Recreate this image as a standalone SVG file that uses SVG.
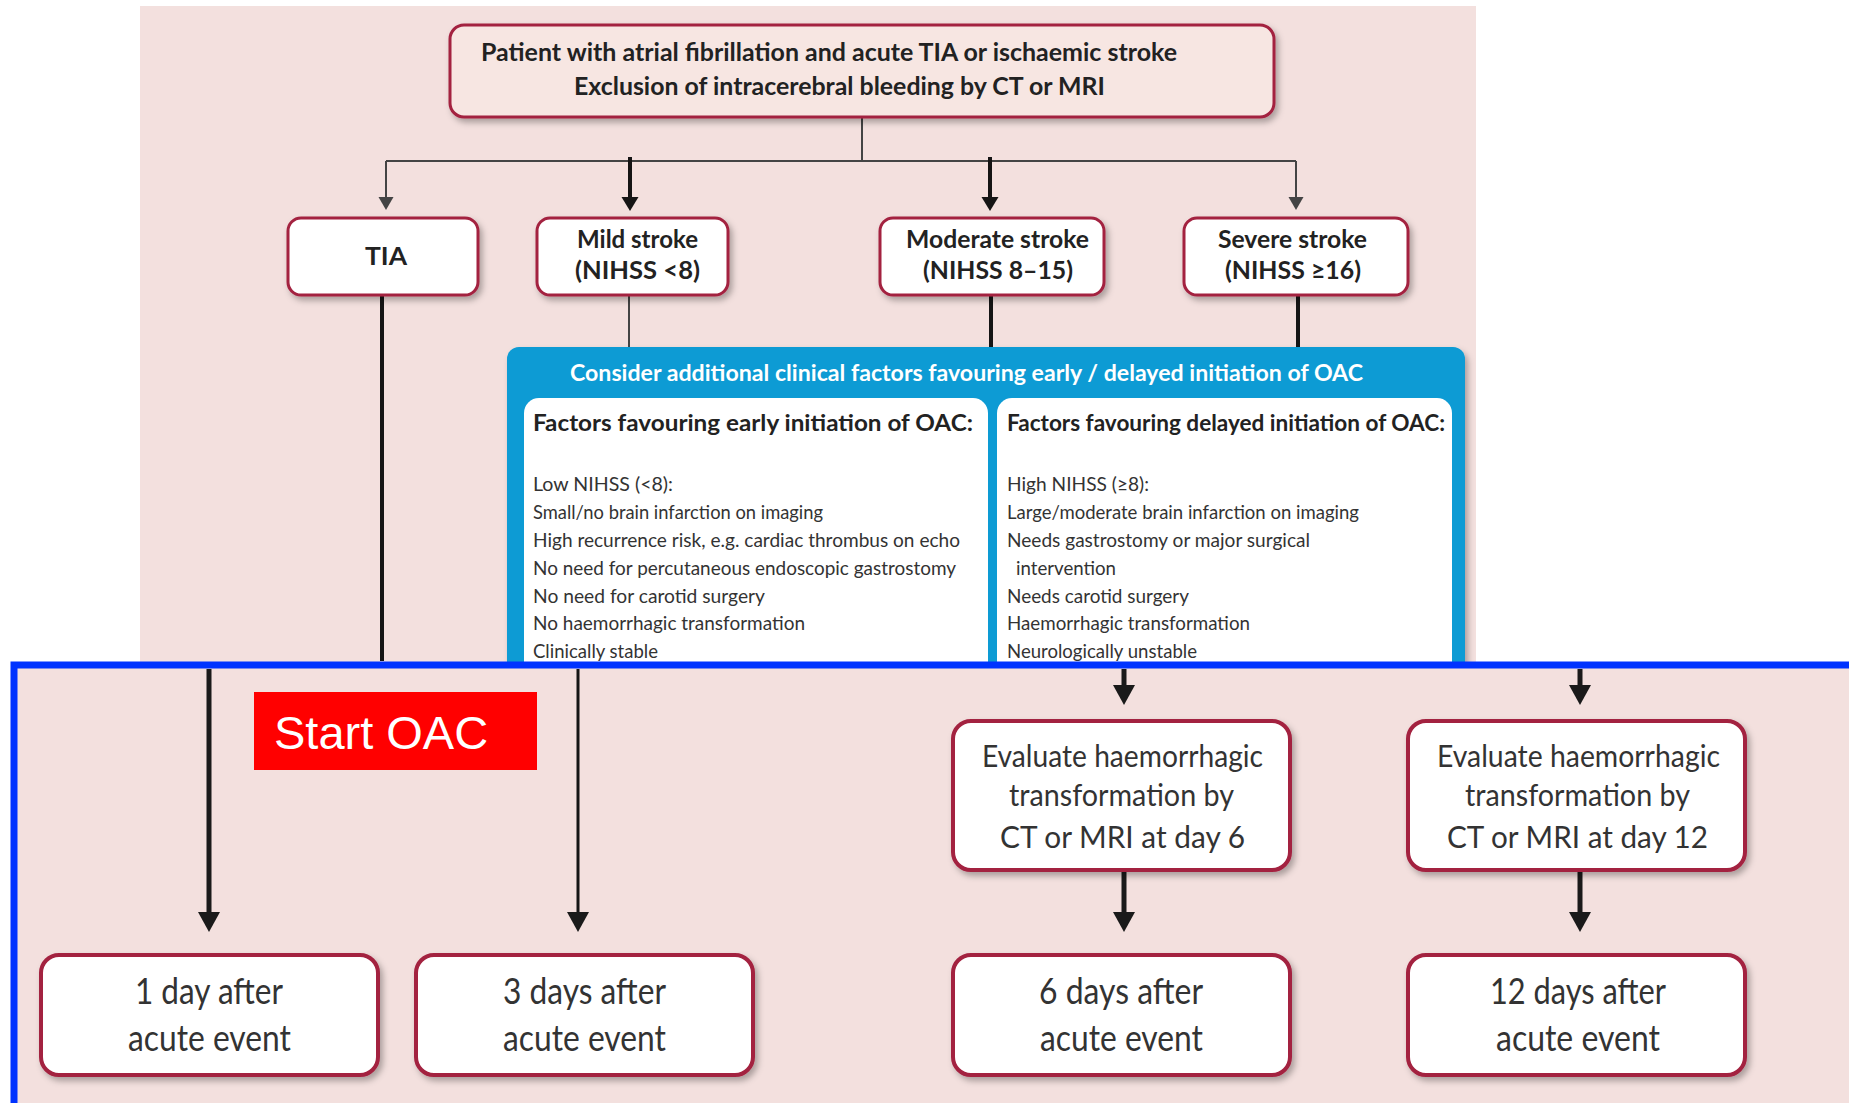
<svg xmlns="http://www.w3.org/2000/svg" width="1849" height="1103" viewBox="0 0 1849 1103">
<defs>
<style>
.node{fill:#ffffff;stroke:#a3213f;stroke-width:3;filter:url(#sh)}
.nodeb{fill:#ffffff;stroke:#a3213f;stroke-width:4;filter:url(#sh)}
.hb{font-family:Lato,"Open Sans","DejaVu Sans",sans-serif;font-weight:bold;fill:#222222}
.it{font-family:Lato,"Open Sans","DejaVu Sans",sans-serif;font-size:20px;fill:#333333}
.bt{font-family:Lato,"Open Sans","DejaVu Sans",sans-serif;fill:#333333}
.thin{stroke:#444444;stroke-width:2;fill:none}
.med{stroke:#151515;stroke-width:4;fill:none}
.big{stroke:#1a1a1a;stroke-width:5;fill:none}
</style>
<filter id="sh" x="-10%" y="-10%" width="125%" height="135%">
<feDropShadow dx="3" dy="4" stdDeviation="3" flood-color="#000000" flood-opacity="0.3"/>
</filter>
<marker id="mThin" viewBox="0 -10 20 20" markerWidth="20" markerHeight="20" refX="6" refY="0" orient="auto" markerUnits="userSpaceOnUse">
<path d="M0,-7.5 L13,0 L0,7.5 z" fill="#444444"/>
</marker>
<marker id="mMed" viewBox="0 -10 20 20" markerWidth="20" markerHeight="20" refX="6" refY="0" orient="auto" markerUnits="userSpaceOnUse">
<path d="M0,-8.5 L14,0 L0,8.5 z" fill="#151515"/>
</marker>
<marker id="mBig" viewBox="0 -12 24 24" markerWidth="24" markerHeight="24" refX="8" refY="0" orient="auto" markerUnits="userSpaceOnUse">
<path d="M0,-11 L20,0 L0,11 z" fill="#1a1a1a"/>
</marker>
</defs>

<rect x="0" y="0" width="1849" height="1103" fill="#ffffff"/>
<rect x="140" y="6" width="1336" height="656" fill="#f3e0de"/>

<g id="factors-panel">
<rect x="507" y="347" width="958" height="340" rx="12" fill="#0a9bd4" filter="url(#sh)"/>
<text x="570" y="381" class="hb" font-size="22" fill="#ffffff" style="fill:#ffffff" textLength="793" lengthAdjust="spacingAndGlyphs">Consider additional clinical factors favouring early / delayed initiation of OAC</text>
<g id="early-factors">
<rect x="524" y="398" width="464" height="300" rx="15" fill="#ffffff"/>
<text x="533" y="431" class="hb" font-size="23" textLength="440" lengthAdjust="spacingAndGlyphs">Factors favouring early initiation of OAC:</text>
<text x="533" y="491" class="it" textLength="140" lengthAdjust="spacingAndGlyphs">Low NIHSS (&lt;8):</text>
<text x="533" y="519" class="it" textLength="290" lengthAdjust="spacingAndGlyphs">Small/no brain infarction on imaging</text>
<text x="533" y="547" class="it" textLength="427" lengthAdjust="spacingAndGlyphs">High recurrence risk, e.g. cardiac thrombus on echo</text>
<text x="533" y="575" class="it" textLength="423" lengthAdjust="spacingAndGlyphs">No need for percutaneous endoscopic gastrostomy</text>
<text x="533" y="603" class="it" textLength="232" lengthAdjust="spacingAndGlyphs">No need for carotid surgery</text>
<text x="533" y="630" class="it" textLength="272" lengthAdjust="spacingAndGlyphs">No haemorrhagic transformation</text>
<text x="533" y="658" class="it" textLength="125" lengthAdjust="spacingAndGlyphs">Clinically stable</text>
</g>
<g id="delayed-factors">
<rect x="997" y="398" width="455" height="300" rx="15" fill="#ffffff"/>
<text x="1007" y="431" class="hb" font-size="23" textLength="438" lengthAdjust="spacingAndGlyphs">Factors favouring delayed initiation of OAC:</text>
<text x="1007" y="491" class="it" textLength="142" lengthAdjust="spacingAndGlyphs">High NIHSS (≥8):</text>
<text x="1007" y="519" class="it" textLength="352" lengthAdjust="spacingAndGlyphs">Large/moderate brain infarction on imaging</text>
<text x="1007" y="547" class="it" textLength="303" lengthAdjust="spacingAndGlyphs">Needs gastrostomy or major surgical</text>
<text x="1016" y="575" class="it" textLength="100" lengthAdjust="spacingAndGlyphs">intervention</text>
<text x="1007" y="603" class="it" textLength="182" lengthAdjust="spacingAndGlyphs">Needs carotid surgery</text>
<text x="1007" y="630" class="it" textLength="243" lengthAdjust="spacingAndGlyphs">Haemorrhagic transformation</text>
<text x="1007" y="658" class="it" textLength="190" lengthAdjust="spacingAndGlyphs">Neurologically unstable</text>
</g>
</g>

<rect id="start-frame" x="14" y="665" width="1845" height="450" fill="#f3e0de" stroke="#0033ff" stroke-width="7"/>

<g id="connectors">
<path class="thin" d="M862,117 V161 M386,161 H1296"/>
<path class="thin" d="M386,161 V203" marker-end="url(#mThin)"/>
<path class="thin" d="M1296,161 V203" marker-end="url(#mThin)"/>
<path class="med" d="M630,157 V203" marker-end="url(#mMed)"/>
<path class="med" d="M990,157 V203" marker-end="url(#mMed)"/>
<path class="med" d="M382,295 V661"/>
<path class="thin" d="M629,295 V347"/>
<path class="med" d="M991,295 V347"/>
<path class="med" d="M1298,295 V347"/>
<path class="big" d="M209,669 V920" marker-end="url(#mBig)"/>
<path class="med" style="stroke-width:3" d="M578,669 V920" marker-end="url(#mBig)"/>
<path class="big" d="M1124,669 V693" marker-end="url(#mBig)"/>
<path class="big" d="M1580,669 V693" marker-end="url(#mBig)"/>
<path class="big" d="M1124,870 V920" marker-end="url(#mBig)"/>
<path class="big" d="M1580,870 V920" marker-end="url(#mBig)"/>
</g>

<g id="patient">
<rect x="450" y="25" width="824" height="92" rx="14" fill="#f7e6e2" stroke="#a3213f" stroke-width="3" filter="url(#sh)"/>
<text x="481" y="61" class="hb" font-size="24" textLength="696" lengthAdjust="spacingAndGlyphs">Patient with atrial fibrillation and acute TIA or ischaemic stroke</text>
<text x="574" y="95" class="hb" font-size="24" textLength="531" lengthAdjust="spacingAndGlyphs">Exclusion of intracerebral bleeding by CT or MRI</text>
</g>
<g id="tia">
<rect class="node" x="288" y="218" width="190" height="77" rx="13"/>
<text x="365" y="265" class="hb" font-size="25" textLength="42" lengthAdjust="spacingAndGlyphs">TIA</text>
</g>
<g id="mild">
<rect class="node" x="537" y="218" width="191" height="77" rx="13"/>
<text x="577" y="248" class="hb" font-size="24" textLength="121" lengthAdjust="spacingAndGlyphs">Mild stroke</text>
<text x="575" y="279" class="hb" font-size="24" textLength="125" lengthAdjust="spacingAndGlyphs">(NIHSS &lt;8)</text>
</g>
<g id="moderate">
<rect class="node" x="880" y="218" width="224" height="77" rx="13"/>
<text x="906" y="248" class="hb" font-size="24" textLength="183" lengthAdjust="spacingAndGlyphs">Moderate stroke</text>
<text x="923" y="279" class="hb" font-size="24" textLength="150" lengthAdjust="spacingAndGlyphs">(NIHSS 8–15)</text>
</g>
<g id="severe">
<rect class="node" x="1184" y="218" width="224" height="77" rx="13"/>
<text x="1218" y="248" class="hb" font-size="24" textLength="149" lengthAdjust="spacingAndGlyphs">Severe stroke</text>
<text x="1225" y="279" class="hb" font-size="24" textLength="136" lengthAdjust="spacingAndGlyphs">(NIHSS ≥16)</text>
</g>

<g id="start-oac">
<rect x="254" y="692" width="283" height="78" fill="#ff0000"/>
<text x="274" y="749" font-family="'Liberation Sans',Arial,sans-serif" font-size="47" fill="#ffffff">Start OAC</text>
</g>

<g id="eval-6">
<rect class="nodeb" x="953" y="721" width="337" height="149" rx="18"/>
<text x="982" y="767" class="bt" font-size="31" textLength="281" lengthAdjust="spacingAndGlyphs">Evaluate haemorrhagic</text>
<text x="1009" y="806" class="bt" font-size="31" textLength="225" lengthAdjust="spacingAndGlyphs">transformation by</text>
<text x="1000" y="848" class="bt" font-size="31" textLength="245" lengthAdjust="spacingAndGlyphs">CT or MRI at day 6</text>
</g>
<g id="eval-12">
<rect class="nodeb" x="1408" y="721" width="337" height="149" rx="18"/>
<text x="1437" y="767" class="bt" font-size="31" textLength="283" lengthAdjust="spacingAndGlyphs">Evaluate haemorrhagic</text>
<text x="1465" y="806" class="bt" font-size="31" textLength="225" lengthAdjust="spacingAndGlyphs">transformation by</text>
<text x="1447" y="848" class="bt" font-size="31" textLength="261" lengthAdjust="spacingAndGlyphs">CT or MRI at day 12</text>
</g>
<g id="day-1">
<rect class="nodeb" x="41" y="955" width="337" height="120" rx="18"/>
<text x="135" y="1004" class="bt" font-size="36" textLength="148" lengthAdjust="spacingAndGlyphs">1 day after</text>
<text x="128" y="1051" class="bt" font-size="36" textLength="163" lengthAdjust="spacingAndGlyphs">acute event</text>
</g>
<g id="day-3">
<rect class="nodeb" x="416" y="955" width="337" height="120" rx="18"/>
<text x="503" y="1004" class="bt" font-size="36" textLength="163" lengthAdjust="spacingAndGlyphs">3 days after</text>
<text x="503" y="1051" class="bt" font-size="36" textLength="163" lengthAdjust="spacingAndGlyphs">acute event</text>
</g>
<g id="day-6">
<rect class="nodeb" x="953" y="955" width="337" height="120" rx="18"/>
<text x="1039" y="1004" class="bt" font-size="36" textLength="164" lengthAdjust="spacingAndGlyphs">6 days after</text>
<text x="1040" y="1051" class="bt" font-size="36" textLength="163" lengthAdjust="spacingAndGlyphs">acute event</text>
</g>
<g id="day-12">
<rect class="nodeb" x="1408" y="955" width="337" height="120" rx="18"/>
<text x="1490" y="1004" class="bt" font-size="36" textLength="176" lengthAdjust="spacingAndGlyphs">12 days after</text>
<text x="1496" y="1051" class="bt" font-size="36" textLength="164" lengthAdjust="spacingAndGlyphs">acute event</text>
</g>
</svg>
